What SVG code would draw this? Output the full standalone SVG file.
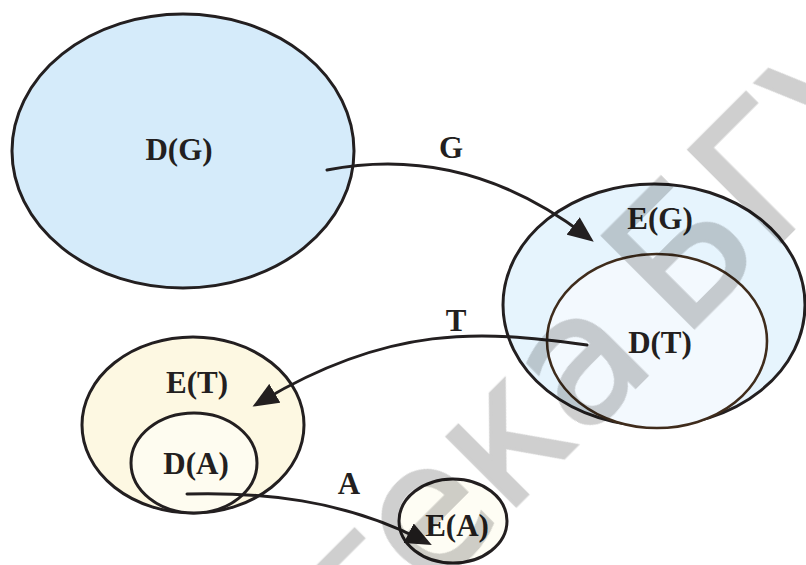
<svg xmlns="http://www.w3.org/2000/svg" width="806" height="565" viewBox="0 0 806 565">
  <style>
    .set { stroke: #231f20; stroke-width: 3; }
    .inner { stroke: #3f2c1c; stroke-width: 2.6; }
    .lbl { font-family: "Liberation Serif", "Times New Roman", serif; font-weight: bold; font-size: 31px; fill: #231f20; text-anchor: middle; }
    .map { fill: none; stroke: #231f20; stroke-width: 3; stroke-linecap: round; marker-end: url(#head); }
    .wm { font-family: "DejaVu Sans", Verdana, sans-serif; font-size: 178px; fill: #cfcfcf; stroke: #cfcfcf; stroke-width: 3; stroke-linejoin: miter; }
  </style>
  <defs>
    <marker id="head" markerUnits="userSpaceOnUse" markerWidth="27" markerHeight="22" refX="15" refY="11" orient="auto">
      <path d="M0,0 L26,11 L0,22 Z" fill="#231f20"/>
    </marker>
  </defs>

  <rect width="806" height="565" fill="#ffffff"/>

  <!-- domain of G -->
  <g id="DG">
    <ellipse class="set" cx="183" cy="151" rx="171" ry="137" fill="#d5ebfa"/>
    <text class="lbl" x="179" y="160">D(G)</text>
  </g>

  <!-- codomain of G, containing domain of T -->
  <g id="EG">
    <ellipse class="set" cx="654" cy="305" rx="151" ry="121" fill="#e6f4fd"/>
    <text class="lbl" x="660" y="229">E(G)</text>
  </g>
  <g id="DT">
    <ellipse class="inner" cx="657" cy="341" rx="110" ry="87" fill="#f3f9fe"/>
    <text class="lbl" x="660" y="353">D(T)</text>
  </g>

  <!-- codomain of T, containing domain of A -->
  <g id="ET">
    <ellipse class="set" cx="193" cy="425" rx="111" ry="88" fill="#fdf8e2"/>
    <text class="lbl" x="197" y="393">E(T)</text>
  </g>
  <g id="DA">
    <ellipse class="set" cx="194" cy="463" rx="63" ry="50" fill="#fefcf0"/>
    <text class="lbl" x="196" y="474">D(A)</text>
  </g>

  <!-- codomain of A -->
  <g id="EA">
    <ellipse class="set" cx="453" cy="521" rx="54" ry="42" fill="#fefdf4"/>
    <text class="lbl" x="457" y="536">E(A)</text>
  </g>

  <!-- mappings -->
  <g id="connectors">
    <path class="map" d="M327,170 C430,150 515,182 585,235"/>
    <path class="map" d="M587,345 C480,330 390,325 262,401"/>
    <path class="map" d="M187,494 C260,492 342,499 422,540"/>
    <text class="lbl" x="451" y="158">G</text>
    <text class="lbl" x="456" y="331">T</text>
    <text class="lbl" x="349" y="494">A</text>
  </g>

  <!-- library stamp across the page -->
  <g id="stamp" style="mix-blend-mode: multiply">
    <text class="wm" transform="translate(682,340) rotate(-45)" x="-34" text-anchor="end">Библиотека</text>
    <text class="wm" transform="translate(682,340) rotate(-45)" x="0">БГУ</text>
  </g>
</svg>
